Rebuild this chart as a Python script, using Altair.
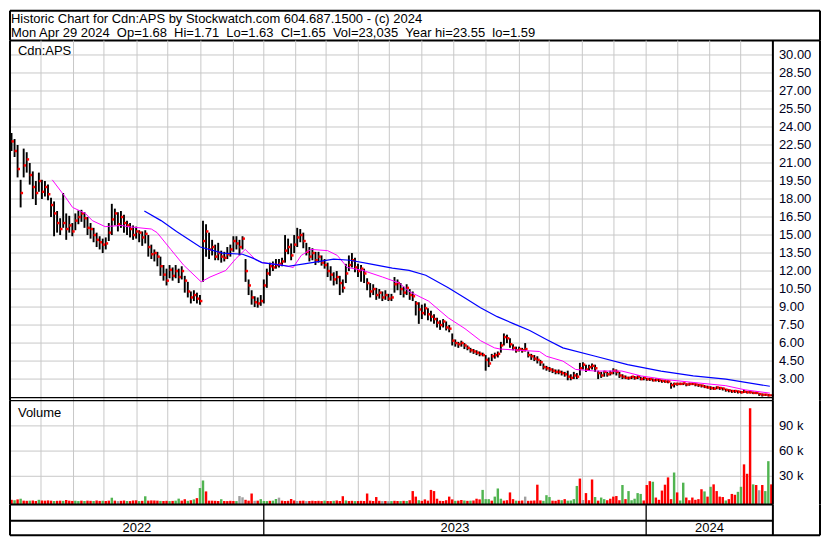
import altair as alt
import pandas as pd

FONT = "Arial, 'Liberation Sans', sans-serif"
GRID = "#c8c8c8"

# ---------------- data ----------------
header_line1 = "Historic Chart for Cdn:APS by Stockwatch.com 604.687.1500 - (c) 2024"
header_line2 = ("Mon Apr 29 2024 \u00a0Op=1.68 \u00a0Hi=1.71 \u00a0Lo=1.63 \u00a0Cl=1.65 "
                "\u00a0Vol=23,035 \u00a0Year hi=23.55 \u00a0lo=1.59")
symbol = "Cdn:APS"

# one bar = two trading days, May 2022 .. Apr 29 2024
close = [
    22.8, 22.0, 20.5, 18.5, 20.8, 21.3, 20.0, 19.0, 18.5, 19.5,
    18.6, 19.0, 18.4, 17.5, 16.8, 16.0, 15.5, 16.0, 15.5, 15.8,
    15.3, 16.2, 16.5, 16.8, 16.4, 15.6, 15.5, 15.0, 14.6, 14.4,
    14.2, 14.3, 15.2, 16.3, 16.8, 15.9, 16.5, 16.0, 15.8, 15.5,
    15.0, 15.3, 15.2, 14.8, 15.1, 14.0, 13.4, 13.5, 13.2, 12.4,
    11.7, 11.2, 12.1, 11.6, 12.0, 11.5, 12.0, 11.2, 10.3, 9.8,
    10.0, 9.7, 9.5, 14.5, 15.3, 13.8, 14.0, 13.2, 13.5, 13.2,
    13.1, 13.4, 13.8, 14.5, 14.3, 14.0, 14.7, 12.0, 10.8, 9.8,
    9.4, 9.3, 9.5, 10.8, 11.8, 12.4, 12.3, 12.5, 12.6, 12.8,
    13.7, 14.0, 13.3, 14.2, 14.8, 15.0, 14.5, 13.6, 13.2, 13.5,
    12.9, 13.2, 12.7, 12.5, 12.0, 11.7, 11.3, 11.5, 11.0, 10.6,
    11.8, 12.5, 12.9, 12.3, 12.0, 12.2, 11.8, 11.0, 10.3, 10.5,
    10.0, 10.2, 9.8, 10.0, 9.7, 9.8, 10.9, 11.0, 10.5, 10.2,
    10.6, 10.0, 9.9, 9.3, 8.8, 8.5, 8.9, 8.4, 8.2, 8.0,
    7.7, 7.5, 7.8, 7.3, 7.2, 6.2, 6.0, 5.9, 6.0, 5.8,
    5.6, 5.4, 5.3, 5.2, 5.1, 5.0, 4.6, 4.3, 4.9, 5.0,
    5.1, 5.8, 6.5, 6.4, 5.9, 5.6, 5.4, 5.5, 5.4, 5.5,
    5.0, 4.9, 4.7, 4.6, 4.4, 4.0, 3.9, 3.8, 3.7, 3.6,
    3.6, 3.5, 3.4, 3.2, 3.1, 3.3, 3.2, 3.9, 4.2, 3.8,
    4.0, 4.1, 3.9, 3.5, 3.3, 3.6, 3.4, 3.5, 3.7, 3.6,
    3.3, 3.2, 3.1, 3.1, 3.2, 3.1, 3.2, 3.0, 3.1, 3.0,
    3.0, 2.9, 2.95, 2.9, 2.85, 2.8, 2.8, 2.5, 2.6, 2.6,
    2.6, 2.65, 2.55, 2.6, 2.6, 2.55, 2.5, 2.45, 2.35, 2.3,
    2.25, 2.2, 2.3, 2.25, 2.2, 2.1, 2.05, 2.0, 2.0, 1.95,
    1.9, 1.95, 1.9, 1.9, 1.85, 1.85, 1.75, 1.7, 1.7, 1.65, 1.65,
]
high = [
    23.5, 23.0, 22.5, 19.6, 22.2, 21.9, 21.0, 20.3, 19.5, 20.2,
    19.6, 19.5, 19.2, 18.1, 17.8, 17.0, 16.4, 18.5, 16.8, 16.6,
    16.0, 16.8, 17.05, 17.1, 16.9, 16.5, 16.0, 15.6, 15.2, 14.9,
    14.7, 14.8, 16.0, 17.6, 17.2, 16.9, 17.0, 16.7, 16.2, 16.0,
    15.8, 15.7, 15.4, 15.3, 15.4, 15.0, 14.2, 13.8, 13.6, 13.2,
    12.5, 12.2, 12.5, 12.3, 12.5, 12.2, 12.4, 11.6, 11.1, 10.3,
    10.4, 10.2, 10.0, 16.2, 15.9, 15.2, 14.6, 14.2, 14.35, 13.7,
    13.6, 14.0, 14.2, 14.9, 14.9, 14.6, 14.9, 13.0, 11.3, 10.4,
    9.9, 9.8, 10.0, 11.3, 12.2, 12.7, 12.8, 13.0, 13.0, 13.1,
    15.0, 14.7, 14.3, 15.0, 15.6, 15.5, 15.2, 14.35, 14.0, 13.9,
    13.6, 13.6, 13.3, 13.0, 12.7, 12.4, 11.9, 12.0, 11.6, 11.3,
    12.6, 13.3, 13.5, 13.1, 12.6, 12.5, 12.2, 11.4, 11.0, 10.9,
    10.6, 10.5, 10.3, 10.4, 10.1, 10.1, 11.5, 11.3, 11.0, 10.7,
    10.9, 10.5, 10.3, 9.5, 9.4, 9.2, 9.3, 8.9, 8.7, 8.4,
    8.1, 7.9, 8.0, 7.8, 7.5, 6.8, 6.3, 6.1, 6.2, 6.0,
    5.8, 5.6, 5.5, 5.4, 5.3, 5.2, 5.0, 4.8, 5.1, 5.2,
    5.3, 6.1, 6.8, 6.7, 6.4, 5.9, 5.7, 5.7, 5.6, 6.0,
    5.3, 5.1, 5.0, 4.9, 4.6, 4.3, 4.1, 4.0, 3.9, 3.8,
    3.8, 3.7, 3.6, 3.7, 3.4, 3.6, 3.5, 4.35, 4.4, 4.2,
    4.2, 4.3, 4.2, 3.7, 3.6, 3.7, 3.6, 3.7, 3.9, 3.8,
    3.6, 3.4, 3.3, 3.2, 3.26, 3.25, 3.3, 3.2, 3.2, 3.1,
    3.1, 3.05, 3.05, 3.0, 2.95, 2.9, 2.9, 2.7, 2.7, 2.7,
    2.7, 2.7, 2.65, 2.7, 2.7, 2.65, 2.6, 2.55, 2.5, 2.45,
    2.4, 2.35, 2.4, 2.35, 2.3, 2.2, 2.15, 2.1, 2.1, 2.05,
    2.0, 2.1, 2.0, 2.0, 1.95, 1.95, 1.85, 1.8, 1.78, 1.75, 1.71,
]
low = [
    22.0, 21.5, 19.8, 17.3, 19.8, 20.2, 19.2, 18.0, 17.5, 18.6,
    18.0, 18.2, 17.9, 16.5, 14.9, 15.2, 15.0, 15.6, 14.6, 15.2,
    14.9, 15.4, 15.9, 16.1, 15.6, 15.0, 14.7, 14.4, 14.0, 13.8,
    13.5, 13.8, 14.5, 15.0, 15.8, 15.3, 15.6, 15.2, 15.0, 14.8,
    14.6, 14.7, 14.4, 14.1, 14.3, 13.2, 13.0, 12.8, 12.4, 11.6,
    11.2, 10.8, 11.4, 11.2, 11.4, 11.0, 11.3, 10.2, 9.8, 9.3,
    9.5, 9.3, 9.2, 11.1, 13.2, 13.0, 13.3, 12.9, 12.9, 12.7,
    12.8, 13.0, 13.2, 13.6, 13.8, 13.3, 13.8, 11.1, 10.0, 9.2,
    9.0, 8.95, 9.1, 9.3, 10.6, 11.6, 12.0, 12.2, 12.3, 12.4,
    12.7, 13.4, 12.9, 13.5, 14.0, 14.4, 13.9, 13.3, 12.8, 12.9,
    12.5, 12.7, 12.45, 12.2, 11.5, 11.2, 10.8, 10.9, 10.0, 10.2,
    11.0, 12.0, 12.3, 11.9, 11.5, 11.1, 11.0, 10.4, 9.8, 10.0,
    9.6, 9.7, 9.5, 9.6, 9.5, 9.5, 10.2, 10.4, 10.0, 9.8,
    10.0, 9.6, 9.5, 8.3, 7.6, 8.0, 8.3, 7.9, 7.8, 7.6,
    7.3, 7.1, 7.3, 7.05, 6.9, 5.8, 5.7, 5.6, 5.7, 5.5,
    5.4, 5.2, 5.1, 5.0, 4.9, 4.9, 3.7, 4.0, 4.5, 4.7,
    4.8, 5.2, 5.8, 6.0, 5.6, 5.4, 5.2, 5.3, 5.2, 5.3,
    4.8, 4.6, 4.5, 4.3, 4.1, 3.8, 3.7, 3.6, 3.5, 3.4,
    3.4, 3.3, 3.2, 2.9, 2.9, 3.0, 3.0, 3.3, 3.8, 3.6,
    3.7, 3.8, 3.6, 3.0, 3.1, 3.2, 3.2, 3.3, 3.4, 3.3,
    3.1, 3.0, 3.0, 2.95, 3.0, 2.95, 3.0, 2.9, 2.9, 2.86,
    2.85, 2.8, 2.8, 2.75, 2.7, 2.7, 2.65, 2.2, 2.3, 2.45,
    2.5, 2.5, 2.4, 2.45, 2.5, 2.4, 2.35, 2.3, 2.25, 2.2,
    2.1, 2.1, 2.15, 2.1, 2.05, 1.95, 1.9, 1.85, 1.85, 1.8,
    1.8, 1.85, 1.8, 1.8, 1.75, 1.75, 1.6, 1.55, 1.6, 1.55, 1.59,
]
volume_k = [
    2, 1.5, 2.5, 3.3, 1, 0.8, 1, 1.2, 0.6, 2,
    1.2, 1, 1.3, 1, 0.6, 0.8, 1, 0.8, 1.8, 1,
    0.7, 0.9, 0.5, 1, 0.6, 1, 0.8, 0.6, 1.2, 0.7,
    0.9, 0.6, 1, 4.5, 1, 0.5, 0.8, 1.2, 0.6, 0.5,
    1.2, 1.4, 0.5, 0.8, 6.2, 1, 1.3, 1.2, 1, 0.7,
    0.6, 0.8, 0.5, 0.7, 1, 3.4, 1, 2.7, 0.8, 1.5,
    2.5, 4, 16, 25, 12, 1, 1, 0.8, 0.6, 2.7,
    0.6, 0.5, 0.8, 0.6, 0.5, 6.5, 5, 2, 1, 9.5,
    0.8, 1, 2.8, 0.6, 0.5, 0.8, 1, 3, 4.6, 1,
    0.6, 0.8, 3, 1.2, 0.6, 0.8, 1, 0.5, 0.6, 0.9,
    0.6, 0.8, 0.5, 1, 0.6, 0.5, 0.8, 1.2, 0.6, 6.3,
    1.2, 0.6, 0.8, 0.5, 0.6, 0.8, 0.6, 9.5, 1, 0.6,
    5.3, 0.8, 0.5, 0.6, 0.4, 0.5, 0.8, 0.6, 0.5, 0.8,
    0.6, 1.5, 12.4, 5.8, 1.5, 0.8, 2.5, 1, 13.8, 12.4,
    3.3, 0.8, 0.6, 1.5, 5.8, 2.5, 0.8, 1, 1.8, 1.2,
    0.8, 1, 1.2, 3.3, 2.5, 13.8, 2.8, 2.8, 1, 5.8,
    15.5, 3.3, 1, 1.5, 10.8, 2.8, 1, 0.8, 1.2, 5.8,
    0.8, 1, 1.2, 20, 1.3, 0.8, 7.5, 5.3, 1, 0.8,
    2, 1.5, 2.8, 1, 1.2, 2.8, 18.5, 27.3, 1.8, 10,
    1.5, 26.2, 5.3, 1, 4.7, 2.8, 1.5, 3.3, 5.8, 6.5,
    1.5, 19.6, 2.8, 12.4, 1.5, 3.3, 10, 9, 1.2, 19.6,
    24.2, 23.5, 4.7, 2, 13, 20, 28.7, 2.8, 34.5, 10.8,
    1.2, 22.4, 4.7, 1.5, 4.7, 2, 2.8, 14.6, 12, 5.8,
    17.5, 20.4, 12.4, 5.8, 5.3, 1.2, 2.8, 9, 8, 11.5,
    17.5, 44.2, 33, 111, 20.4, 19.6, 13.4, 19.6, 12.4, 48, 20.4,
]
# r = down day, g = up day, n = unchanged
volume_dir = (
    "rgrgrrgrrg" "rrrrgrrgrr" "rggrgrrgrr" "grrgrnrrgr" "rrgrgrrrrg"
    "rrgrggrrgr" "grggrrrrrg" "rrrrgnnrrr" "nrgggrggnr" "rrrrnrrnrr"
    "rrrgrrgrrr" "grrgrrrrrr" "rrnrngrrgr" "grrrgrrrrr" "rrrrrrgrrg"
    "rgrrrgggrg" "ggrrrrgrrn" "rrrrrgggrr" "rgrggggrnr" "rrgrggrrrr"
    "rgrgggggrr" "rgrrrrrrgr" "ggrrrrrrgr" "grrrrgrrrg" "grrrgrnrggr"
)

# moving averages (position in bar units, value)
ma_short_pos = [13.9, 18.4, 20.6, 24.8, 27.1, 31.3, 36.8, 38.7, 46.5, 48.4,
                52.9, 57.1, 62.9, 65.8, 71.0, 74.2, 77.4, 80.6, 82.9, 89.4,
                93.2, 95.8, 99.0, 104.5, 107.7, 111.0, 116.1, 122.6, 128.1, 131.3,
                137.7, 144.2, 149.7, 154.8, 159.4, 161.3, 167.7, 174.2, 176.5, 181.9,
                186.1, 192.6, 201.3, 207.7, 216.1, 224.8, 235.5, 241.9, 250.0]
ma_short_val = [19.6, 18.1, 17.3, 16.8, 16.2, 15.7, 15.8, 15.7, 15.5, 15.2,
                13.8, 12.5, 11.1, 11.5, 12.05, 13.0, 13.8, 13.0, 12.7, 12.5,
                12.3, 13.3, 13.8, 13.7, 13.3, 12.3, 12.05, 11.5, 11.0, 10.3,
                9.5, 8.1, 7.2, 6.2, 5.6, 5.5, 5.4, 5.3, 4.9, 4.5,
                3.8, 3.67, 3.67, 3.26, 2.95, 2.72, 2.45, 2.1, 1.83]
ma_long_pos = [44.2, 49.7, 54.8, 62.6, 70.0, 76.5, 79.7, 82.9, 86.1, 91.6,
               96.8, 106.5, 111.9, 118.4, 125.8, 131.3, 136.8, 144.2, 149.7, 154.8,
               160.3, 165.8, 171.0, 176.5, 181.9, 192.6, 203.2, 214.2, 224.8, 235.5, 250.0]
ma_long_val = [17.0, 16.2, 15.3, 14.0, 13.5, 13.4, 13.1, 12.7, 12.6, 12.4,
               12.6, 13.0, 12.9, 12.6, 12.24, 12.05, 11.65, 10.6, 9.75, 8.95,
               8.2, 7.6, 7.05, 6.3, 5.6, 4.9, 4.2, 3.67, 3.26, 3.0, 2.4]

month_lines = [10.2, 20.9, 30.9, 41.8, 51.9, 62.8, 73.5, 83.5, 94.0, 104.0, 114.6,
               124.8, 135.5, 146.0, 156.6, 167.6, 177.4, 188.3, 198.7, 209.3,
               219.7, 230.2, 240.4]
year_labels = ["2022", "2023", "2024"]
year_start = [0, 83.5, 209.3]
year_end = [83.5, 209.3, 251]

price_ticks = [30.0, 28.5, 27.0, 25.5, 24.0, 22.5, 21.0, 19.5, 18.0, 16.5,
               15.0, 13.5, 12.0, 10.5, 9.0, 7.5, 6.0, 4.5, 3.0]
price_tick_labels = ["30.00", "28.50", "27.00", "25.50", "24.00", "22.50", "21.00",
                     "19.50", "18.00", "16.50", "15.00", "13.50", "12.00", "10.50",
                     "9.00", "7.50", "6.00", "4.50", "3.00"]
vol_ticks = [30, 60, 90]
vol_tick_labels = ["30 k", "60 k", "90 k"]

# ---------------- tables ----------------
N = len(close)
XMAX = 266.5
W = 812
xs = alt.Scale(domain=[0, XMAX], nice=False, zero=False)

bars = pd.DataFrame({"u": [i + 0.5 for i in range(N)], "close": close,
                     "high": high, "low": low})
vol = pd.DataFrame({"u0": [i + 0.1 for i in range(N)], "u1": [i + 0.9 for i in range(N)],
                    "vol": volume_k, "base": [-3.5] * N, "c": list(volume_dir)})
ma_s = pd.DataFrame({"u": ma_short_pos, "v": ma_short_val})
ma_l = pd.DataFrame({"u": ma_long_pos, "v": ma_long_val})
months = pd.DataFrame({"u": month_lines})
years = pd.DataFrame({"lab": year_labels,
                      "mid": [(a + b) / 2 for a, b in zip(year_start, year_end)],
                      "yy": [0.24] * 3})
bounds = pd.DataFrame({"u": year_start[1:], "y0": [0, 0], "y1": [1, 1]})
ptk = pd.DataFrame({"p": price_ticks, "lab": price_tick_labels,
                    "x0": [0] * len(price_ticks), "x1": [N] * len(price_ticks)})
vtk = pd.DataFrame({"p": vol_ticks, "lab": vol_tick_labels,
                    "x0": [0] * 3, "x1": [N] * 3})
verticals = pd.DataFrame({"u": [0, N, XMAX]})


def hlines(ys, x1s, width):
    df = pd.DataFrame({"y": ys, "x0": [0] * len(ys), "x1": x1s})
    return alt.Chart(df).mark_rule(color="black", strokeWidth=width).encode(
        x="x0:Q", x2="x1:Q", y="y:Q")


def vframe():
    return alt.Chart(verticals).mark_rule(color="black", strokeWidth=2).encode(x="u:Q")


def label_text(df, size=13):
    return alt.Chart(df).mark_text(align="left", baseline="middle", dx=6, font=FONT,
                                   fontSize=size, color="#000020").encode(
        x="x1:Q", y="p:Q", text="lab:N")


# header
hy = alt.Scale(domain=[0, 1], nice=False, zero=False)
hdr = pd.DataFrame({"t1": [header_line1], "t2": [header_line2]})
header = alt.layer(
    alt.Chart(pd.DataFrame({"y": [0, 1], "x0": [0, 0], "x1": [XMAX, XMAX]}))
    .mark_rule(color="black", strokeWidth=2).encode(
        x=alt.X("x0:Q", scale=xs, axis=None), x2="x1:Q",
        y=alt.Y("y:Q", scale=hy, axis=None)),
    alt.Chart(pd.DataFrame({"u": [0, XMAX]})).mark_rule(color="black", strokeWidth=2)
    .encode(x="u:Q"),
    alt.Chart(hdr).mark_text(align="left", baseline="alphabetic", font=FONT,
                             fontSize=13, color="black").encode(
        x=alt.value(1), y=alt.value(12.5), text="t1:N"),
    alt.Chart(hdr).mark_text(align="left", baseline="alphabetic", font=FONT,
                             fontSize=13, color="black").encode(
        x=alt.value(1), y=alt.value(26.5), text="t2:N"),
).properties(width=W, height=30)

# price panel
py = alt.Scale(domain=[1.2, 31.2], nice=False, zero=False)
sym = pd.DataFrame({"t": [symbol]})
price = alt.layer(
    alt.Chart(months).mark_rule(color=GRID, strokeWidth=1).encode(
        x=alt.X("u:Q", scale=xs, axis=None)),
    alt.Chart(ptk).mark_rule(color=GRID, strokeWidth=1).encode(
        y=alt.Y("p:Q", scale=py, axis=None), x="x0:Q", x2="x1:Q"),
    alt.Chart(bars).mark_rule(color="black", strokeWidth=1.9).encode(
        x="u:Q", y="low:Q", y2="high:Q"),
    alt.Chart(bars).mark_square(color="#ff0000", size=6, opacity=1, xOffset=1.2).encode(
        x="u:Q", y="close:Q"),
    alt.Chart(ma_s).mark_line(color="#ff00ff", strokeWidth=1).encode(x="u:Q", y="v:Q"),
    alt.Chart(ma_l).mark_line(color="#0000ff", strokeWidth=1.2).encode(x="u:Q", y="v:Q"),
    hlines([1.45], [N], 1.2),
    vframe(),
    label_text(ptk),
    alt.Chart(sym).mark_text(align="left", baseline="alphabetic", font=FONT,
                             fontSize=13, color="black").encode(
        x=alt.value(8), y=alt.value(14), text="t:N"),
).properties(width=W, height=361)

# volume panel
vy = alt.Scale(domain=[-3.5, 120], nice=False, zero=False)
vlab = pd.DataFrame({"t": ["Volume"]})
volume = alt.layer(
    alt.Chart(months).mark_rule(color=GRID, strokeWidth=1).encode(
        x=alt.X("u:Q", scale=xs, axis=None)),
    alt.Chart(vtk).mark_rule(color=GRID, strokeWidth=1).encode(
        y=alt.Y("p:Q", scale=vy, axis=None), x="x0:Q", x2="x1:Q"),
    alt.Chart(vol).mark_bar().encode(
        x="u0:Q", x2="u1:Q", y="vol:Q", y2="base:Q",
        color=alt.Color("c:N", scale=alt.Scale(domain=["r", "g", "n"],
                                               range=["#ff0000", "#50b450", "#a0a0a0"]),
                        legend=None)),
    hlines([120], [N], 1.2),
    vframe(),
    label_text(vtk),
    alt.Chart(vlab).mark_text(align="left", baseline="alphabetic", font=FONT,
                              fontSize=13, color="black").encode(
        x=alt.value(8), y=alt.value(16), text="t:N"),
).properties(width=W, height=104)

# year band
by = alt.Scale(domain=[0, 1], nice=False, zero=False)
band = alt.layer(
    alt.Chart(pd.DataFrame({"y": [1, 0.47, 0], "x0": [0, 0, 0], "x1": [N, N, XMAX]}))
    .mark_rule(color="black", strokeWidth=2).encode(
        x=alt.X("x0:Q", scale=xs, axis=None), x2="x1:Q",
        y=alt.Y("y:Q", scale=by, axis=None)),
    alt.Chart(bounds).mark_rule(color="black", strokeWidth=1.3).encode(
        x="u:Q", y="y0:Q", y2="y1:Q"),
    vframe(),
    alt.Chart(years).mark_text(align="center", baseline="middle", font=FONT,
                               fontSize=13, color="black").encode(
        x="mid:Q", y="yy:Q", text="lab:N"),
).properties(width=W, height=31)

chart = alt.vconcat(header, price, volume, band, spacing=0, bounds="flush").properties(
    padding=0, background="white"
).configure_view(stroke="transparent")

chart.save("out.html", embed_options={"renderer": "svg", "actions": False})
